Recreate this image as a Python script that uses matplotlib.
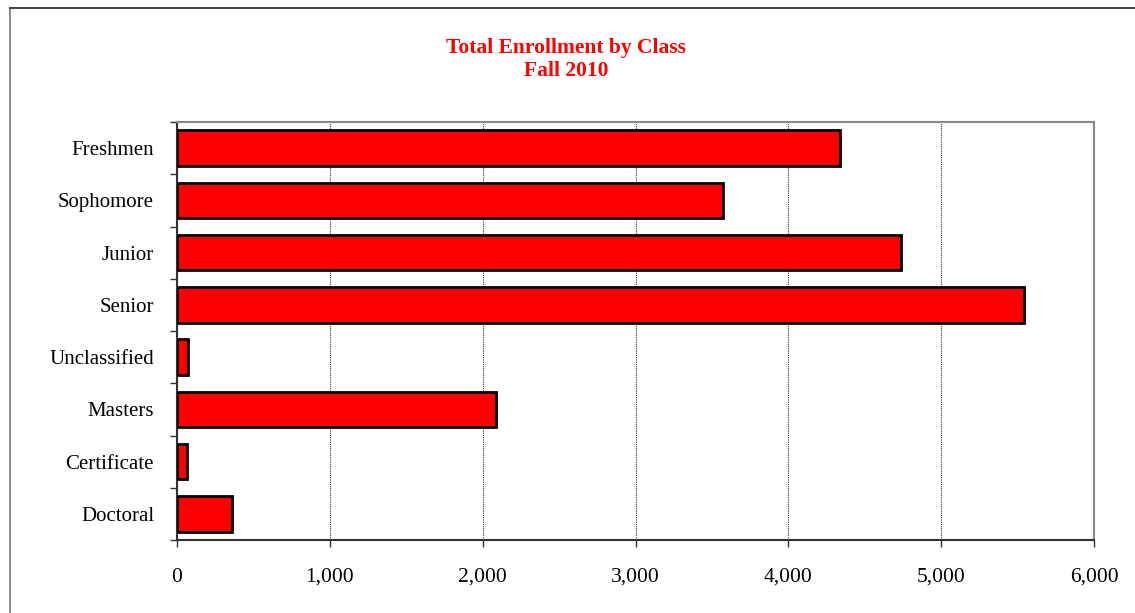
import matplotlib.pyplot as plt
from matplotlib.lines import Line2D
from matplotlib.ticker import FuncFormatter, FixedLocator

# Data
classes = ['Freshmen', 'Sophomore', 'Junior', 'Senior',
           'Unclassified', 'Masters', 'Certificate', 'Doctoral']
enrollment = [4335, 3572, 4735, 5545, 74, 2087, 65, 360]

plt.rcParams['font.family'] = ['Liberation Serif', 'DejaVu Serif']

fig = plt.figure(figsize=(11.35, 6.13), dpi=100)
ax = fig.add_axes([177 / 1135, 1 - 540 / 613, (1094 - 177) / 1135, (540 - 122) / 613])

# figure border (only left and top show in the crop)
bx, by = 9.5 / 1135, 1 - 7.5 / 613
fig.lines.append(Line2D([bx, bx], [0, by], transform=fig.transFigure, color='#777777', linewidth=1.2))
fig.lines.append(Line2D([bx, 1], [by, by], transform=fig.transFigure, color='#222222', linewidth=1.2))

y = list(range(len(classes)))
ax.barh(y, enrollment, height=0.68, color='#ff0000', edgecolor='black', linewidth=2, zorder=3)

ax.set_xlim(0, 6000)
ax.set_ylim(len(classes) - 0.5, -0.5)
ax.set_xticks(range(0, 7000, 1000))
ax.xaxis.set_major_formatter(FuncFormatter(lambda v, p: f'{int(v):,}'))
ax.set_yticks(y)
ax.set_yticklabels(classes)
ax.tick_params(axis='y', length=0, pad=16.5, labelsize=15)
ax.yaxis.set_minor_locator(FixedLocator([i - 0.5 for i in range(len(classes) + 1)]))
ax.tick_params(axis='y', which='minor', length=5, width=1, color='#333333')
ax.tick_params(axis='x', length=5, width=1, color='#333333', labelsize=15.5, pad=15)

ax.grid(axis='x', linestyle=(0, (1, 1)), color='#333333', linewidth=0.8, zorder=0)
for s in ['top', 'right']:
    ax.spines[s].set_color('#888888')
    ax.spines[s].set_linewidth(1.5)
for s in ['left', 'bottom']:
    ax.spines[s].set_color('#333333')
    ax.spines[s].set_linewidth(1.5)

fig.text(566 / 1135, 1 - 59 / 613, 'Total Enrollment by Class\nFall 2010', ha='center', va='center',
         color='#ff0000', fontweight='bold', fontsize=15.5, linespacing=1.2)

fig.savefig('out.png', dpi=100)
